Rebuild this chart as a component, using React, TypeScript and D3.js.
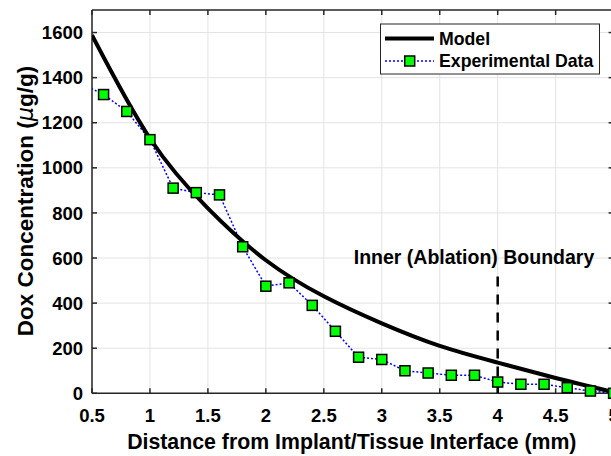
import React from "react";
import * as d3 from "d3";

const expX = [0.4, 0.6, 0.8, 1.0, 1.2, 1.4, 1.6, 1.8, 2.0, 2.2, 2.4, 2.6, 2.8, 3.0, 3.2, 3.4, 3.6, 3.8, 4.0, 4.2, 4.4, 4.6, 4.8, 5.0];
const expY = [1375, 1325, 1250, 1125, 910, 890, 880, 650, 475, 490, 390, 275, 160, 150, 100, 90, 80, 80, 50, 40, 40, 25, 10, 0];

const modelX = [0.5, 1.0, 1.5, 2.0, 2.5, 3.0, 3.5, 4.0, 4.5, 5.0];
const modelY = [1588, 1130, 820, 590, 430, 310, 210, 136, 68, 5];

const xTicks = [0.5, 1, 1.5, 2, 2.5, 3, 3.5, 4, 4.5, 5];
const xTickLabels = ["0.5", "1", "1.5", "2", "2.5", "3", "3.5", "4", "4.5", "5"];
const yTicks = [0, 200, 400, 600, 800, 1000, 1200, 1400, 1600];

const boundaryX = 4;
const boundaryTop = 518;

const W = 611;
const H = 456;
const L = 92;
const R = 613.6;
const T = 10;
const B = 393.3;

const FONT = "'Liberation Sans', Arial, Helvetica, sans-serif";
const AX = "#262626";

export default function App() {
  const x = d3.scaleLinear().domain([0.5, 5]).range([L, R]);
  const y = d3.scaleLinear().domain([0, 1700]).range([B, T]);

  const modelPts = modelX.map((v, i) => [v, modelY[i]] as [number, number]);
  const expPts = expX.map((v, i) => [v, expY[i]] as [number, number]);

  const modelLine = d3
    .line<[number, number]>()
    .x((d) => x(d[0]))
    .y((d) => y(d[1]))
    .curve(d3.curveNatural)(modelPts) as string;
  const expLine = d3
    .line<[number, number]>()
    .x((d) => x(d[0]))
    .y((d) => y(d[1]))(expPts) as string;

  const ms = 10;

  return (
    <svg
      width={W}
      height={H}
      style={{ position: "absolute", left: 0, top: 0, background: "#fff" }}
      fontFamily={FONT}
    >
      <defs>
        <clipPath id="plotclip">
          <rect x={L} y={T} width={R - L} height={B - T} />
        </clipPath>
      </defs>
      <rect x={0} y={0} width={W} height={H} fill="#fff" />
      {/* grid */}
      {xTicks.map((t) => (
        <line key={"gx" + t} x1={x(t)} x2={x(t)} y1={T} y2={B} stroke="#e3e3e3" strokeWidth={1} />
      ))}
      {yTicks.map((t) => (
        <line key={"gy" + t} x1={L} x2={R} y1={y(t)} y2={y(t)} stroke="#e3e3e3" strokeWidth={1} />
      ))}
      {/* axes box */}
      <line x1={L} x2={R} y1={B} y2={B} stroke={AX} strokeWidth={1.5} />
      <line x1={L} x2={R} y1={T} y2={T} stroke={AX} strokeWidth={1.5} />
      <line x1={L} x2={L} y1={T} y2={B} stroke={AX} strokeWidth={1.5} />
      <line x1={R} x2={R} y1={T} y2={B} stroke={AX} strokeWidth={1.5} />
      {xTicks.map((t) => (
        <g key={"tx" + t}>
          <line x1={x(t)} x2={x(t)} y1={B} y2={B - 5} stroke={AX} strokeWidth={1.5} />
          <line x1={x(t)} x2={x(t)} y1={T} y2={T + 5} stroke={AX} strokeWidth={1.5} />
        </g>
      ))}
      {yTicks.map((t) => (
        <g key={"ty" + t}>
          <line x1={L} x2={L + 5} y1={y(t)} y2={y(t)} stroke={AX} strokeWidth={1.5} />
          <line x1={R} x2={R - 5} y1={y(t)} y2={y(t)} stroke={AX} strokeWidth={1.5} />
        </g>
      ))}
      {/* tick labels */}
      {xTicks.map((t, i) => (
        <text key={"lx" + t} x={x(t)} y={421.5} textAnchor="middle" fontSize={18.5} fontWeight="bold" fill="#000">
          {xTickLabels[i]}
        </text>
      ))}
      {yTicks.map((t) => (
        <text key={"ly" + t} x={83} y={y(t) + 6.6} textAnchor="end" fontSize={18.5} fontWeight="bold" fill="#000">
          {t}
        </text>
      ))}
      {/* data */}
      <g clipPath="url(#plotclip)">
        <line
          x1={x(boundaryX)}
          x2={x(boundaryX)}
          y1={y(boundaryTop)}
          y2={y(0)}
          stroke="#000"
          strokeWidth={2.5}
          strokeDasharray="10,8"
        />
        <path d={expLine} fill="none" stroke="#0000ff" strokeWidth={1.5} strokeDasharray="2,2" />
        <path d={modelLine} fill="none" stroke="#000" strokeWidth={4} />
      </g>
      {expPts
        .filter((d) => d[0] >= 0.5)
        .map((d) => (
          <rect
            key={"m" + d[0]}
            x={x(d[0]) - ms / 2}
            y={y(d[1]) - ms / 2}
            width={ms}
            height={ms}
            fill="#00ff00"
            stroke="#000"
            strokeWidth={1.5}
          />
        ))}
      {/* annotation */}
      <text x={474} y={264} textAnchor="middle" fontSize={19.5} fontWeight="bold" fill="#000">
        Inner (Ablation) Boundary
      </text>
      {/* axis labels */}
      <text x={(L + R) / 2 - 1} y={449} textAnchor="middle" fontSize={21.3} fontWeight="bold" fill="#000">
        Distance from Implant/Tissue Interface (mm)
      </text>
      <text
        transform="translate(33,201) rotate(-90)"
        textAnchor="middle"
        fontSize={22.5}
        fontWeight="bold"
        fill="#000"
      >
        Dox Concentration (
        <tspan fontStyle="italic" fontWeight="normal" fontFamily="'DejaVu Sans', sans-serif">μ</tspan>
        g/g)
      </text>
      {/* legend */}
      <rect x={380.5} y={24} width={219} height={50} fill="#fff" stroke={AX} strokeWidth={1} />
      <line x1={385} x2={434} y1={38.5} y2={38.5} stroke="#000" strokeWidth={4} />
      <text x={439} y={44.5} fontSize={17.7} fontWeight="bold" fill="#000">
        Model
      </text>
      <line x1={385} x2={434} y1={61} y2={61} stroke="#0000ff" strokeWidth={1.5} strokeDasharray="2,2" />
      <rect x={409.7 - ms / 2} y={61 - ms / 2} width={ms} height={ms} fill="#00ff00" stroke="#000" strokeWidth={1.5} />
      <text x={439} y={67} fontSize={17.7} fontWeight="bold" fill="#000">
        Experimental Data
      </text>
    </svg>
  );
}
